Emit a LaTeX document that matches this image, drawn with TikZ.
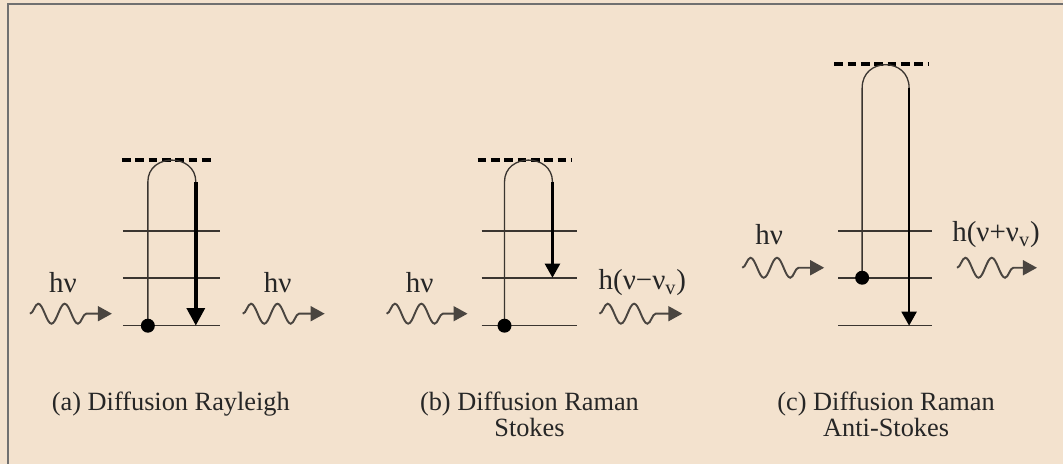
\documentclass[tikz,border=0pt]{standalone}
\usepackage{fontspec}
\setmainfont{Liberation Serif}
\usetikzlibrary{arrows.meta,decorations.pathmorphing}
\definecolor{bg}{HTML}{F3E2CE}
\definecolor{framec}{HTML}{707070}
\definecolor{lvl}{HTML}{3A3530}
\definecolor{wavec}{HTML}{4A4540}
\begin{document}
\begin{tikzpicture}[x=0.02cm,y=-0.02cm,
 level/.style={draw=lvl,line width=0.9pt},
 virt/.style={draw=black,line width=1.9pt,dash pattern=on 5pt off 2.6pt},
 uppath/.style={draw=lvl,line width=0.75pt},
 down/.style={draw=black,line width=1.5pt,-{Triangle[length=8pt,width=8.5pt]}},
 downthick/.style={draw=black,line width=2.4pt,-{Triangle[length=10pt,width=10pt]}},
 photon/.style={draw=wavec,line width=1.1pt,decorate,decoration={snake,amplitude=0.2cm,segment length=0.53cm,post length=0.3cm},-{Triangle[length=8pt,width=8.5pt]}},
 lab/.style={font=\fontsize{16.5}{16.5}\selectfont,inner sep=0pt,text=black!85},
 captext/.style={font=\fontsize{15}{14.8}\selectfont,align=center,inner sep=0pt,text=black!85},
 dot/.style={fill=black}
]
\path[fill=bg] (0,0) rectangle (1064,464);
\draw[framec,line width=1.2pt] (8,464) -- (8,4) -- (1064,4);

% ---------- (a) Rayleigh ----------
\coordinate (a0l) at (123,326); \coordinate (a0r) at (220,326);
\coordinate (a1l) at (123,278); \coordinate (a1r) at (220,278);
\coordinate (a2l) at (123,231); \coordinate (a2r) at (220,231);
\coordinate (avl) at (122,160); \coordinate (avr) at (215,160);
\draw[level] (a0l) -- (a0r);
\draw[level] (a1l) -- (a1r);
\draw[level] (a2l) -- (a2r);
\draw[virt] (avl) -- (avr);
\coordinate (aup0) at (148,326); \coordinate (aup1) at (148,182);
\coordinate (adn0) at (196,182); \coordinate (adn1) at (196,326);
\draw[uppath] (aup0) -- (aup1) .. controls (148,153) and (196,153) .. (adn0);
\draw[downthick] (adn0) -- (adn1);
\fill[dot] (aup0) circle[radius=0.14cm];
\node[lab] (ahin) at (63,283) {hν};
\node[lab] (ahout) at (278,283) {hν};
\coordinate (awi0) at (30,314); \coordinate (awi1) at (112,314);
\coordinate (awo0) at (243,314); \coordinate (awo1) at (325,314);
\draw[photon] (awi0) -- (awi1);
\draw[photon] (awo0) -- (awo1);
\node[captext] (acap) at (171,404) {(a) Diffusion Rayleigh};

% ---------- (b) Raman Stokes ----------
\coordinate (b0l) at (482,326); \coordinate (b0r) at (578,326);
\coordinate (b1l) at (482,278); \coordinate (b1r) at (578,278);
\coordinate (b2l) at (482,231); \coordinate (b2r) at (578,231);
\coordinate (bvl) at (478,160); \coordinate (bvr) at (573,160);
\draw[level] (b0l) -- (b0r);
\draw[level] (b1l) -- (b1r);
\draw[level] (b2l) -- (b2r);
\draw[virt] (bvl) -- (bvr);
\coordinate (bup0) at (505,326); \coordinate (bup1) at (505,182);
\coordinate (bdn0) at (553,182); \coordinate (bdn1) at (553,278);
\draw[uppath] (bup0) -- (bup1) .. controls (505,153) and (553,153) .. (bdn0);
\draw[down] (bdn0) -- (bdn1);
\fill[dot] (bup0) circle[radius=0.14cm];
\node[lab] (bhin) at (420,283) {hν};
\node[lab] (bhout) at (643,283) {h(ν−ν\textsubscript{v})};
\coordinate (bwi0) at (387,314); \coordinate (bwi1) at (468,314);
\coordinate (bwo0) at (600,314); \coordinate (bwo1) at (683,314);
\draw[photon] (bwi0) -- (bwi1);
\draw[photon] (bwo0) -- (bwo1);
\node[captext] (bcap) at (530,415) {(b) Diffusion Raman\\Stokes};

% ---------- (c) Raman Anti-Stokes ----------
\coordinate (c0l) at (839,326); \coordinate (c0r) at (933,326);
\coordinate (c1l) at (839,278); \coordinate (c1r) at (933,278);
\coordinate (c2l) at (839,231); \coordinate (c2r) at (933,231);
\coordinate (cvl) at (835,64); \coordinate (cvr) at (930,64);
\draw[level] (c0l) -- (c0r);
\draw[level] (c1l) -- (c1r);
\draw[level] (c2l) -- (c2r);
\draw[virt] (cvl) -- (cvr);
\coordinate (cup0) at (863,278); \coordinate (cup1) at (863,88);
\coordinate (cdn0) at (910,88); \coordinate (cdn1) at (910,326);
\draw[uppath] (cup0) -- (cup1) .. controls (863,57) and (910,57) .. (cdn0);
\draw[down] (cdn0) -- (cdn1);
\fill[dot] (cup0) circle[radius=0.14cm];
\node[lab] (chin) at (770,235) {hν};
\node[lab] (chout) at (997,235) {h(ν+ν\textsubscript{v})};
\coordinate (cwi0) at (743,268); \coordinate (cwi1) at (825,268);
\coordinate (cwo0) at (958,268); \coordinate (cwo1) at (1038,268);
\draw[photon] (cwi0) -- (cwi1);
\draw[photon] (cwo0) -- (cwo1);
\node[captext] (ccap) at (887,415) {(c) Diffusion Raman\\Anti-Stokes};
\end{tikzpicture}
\end{document}
